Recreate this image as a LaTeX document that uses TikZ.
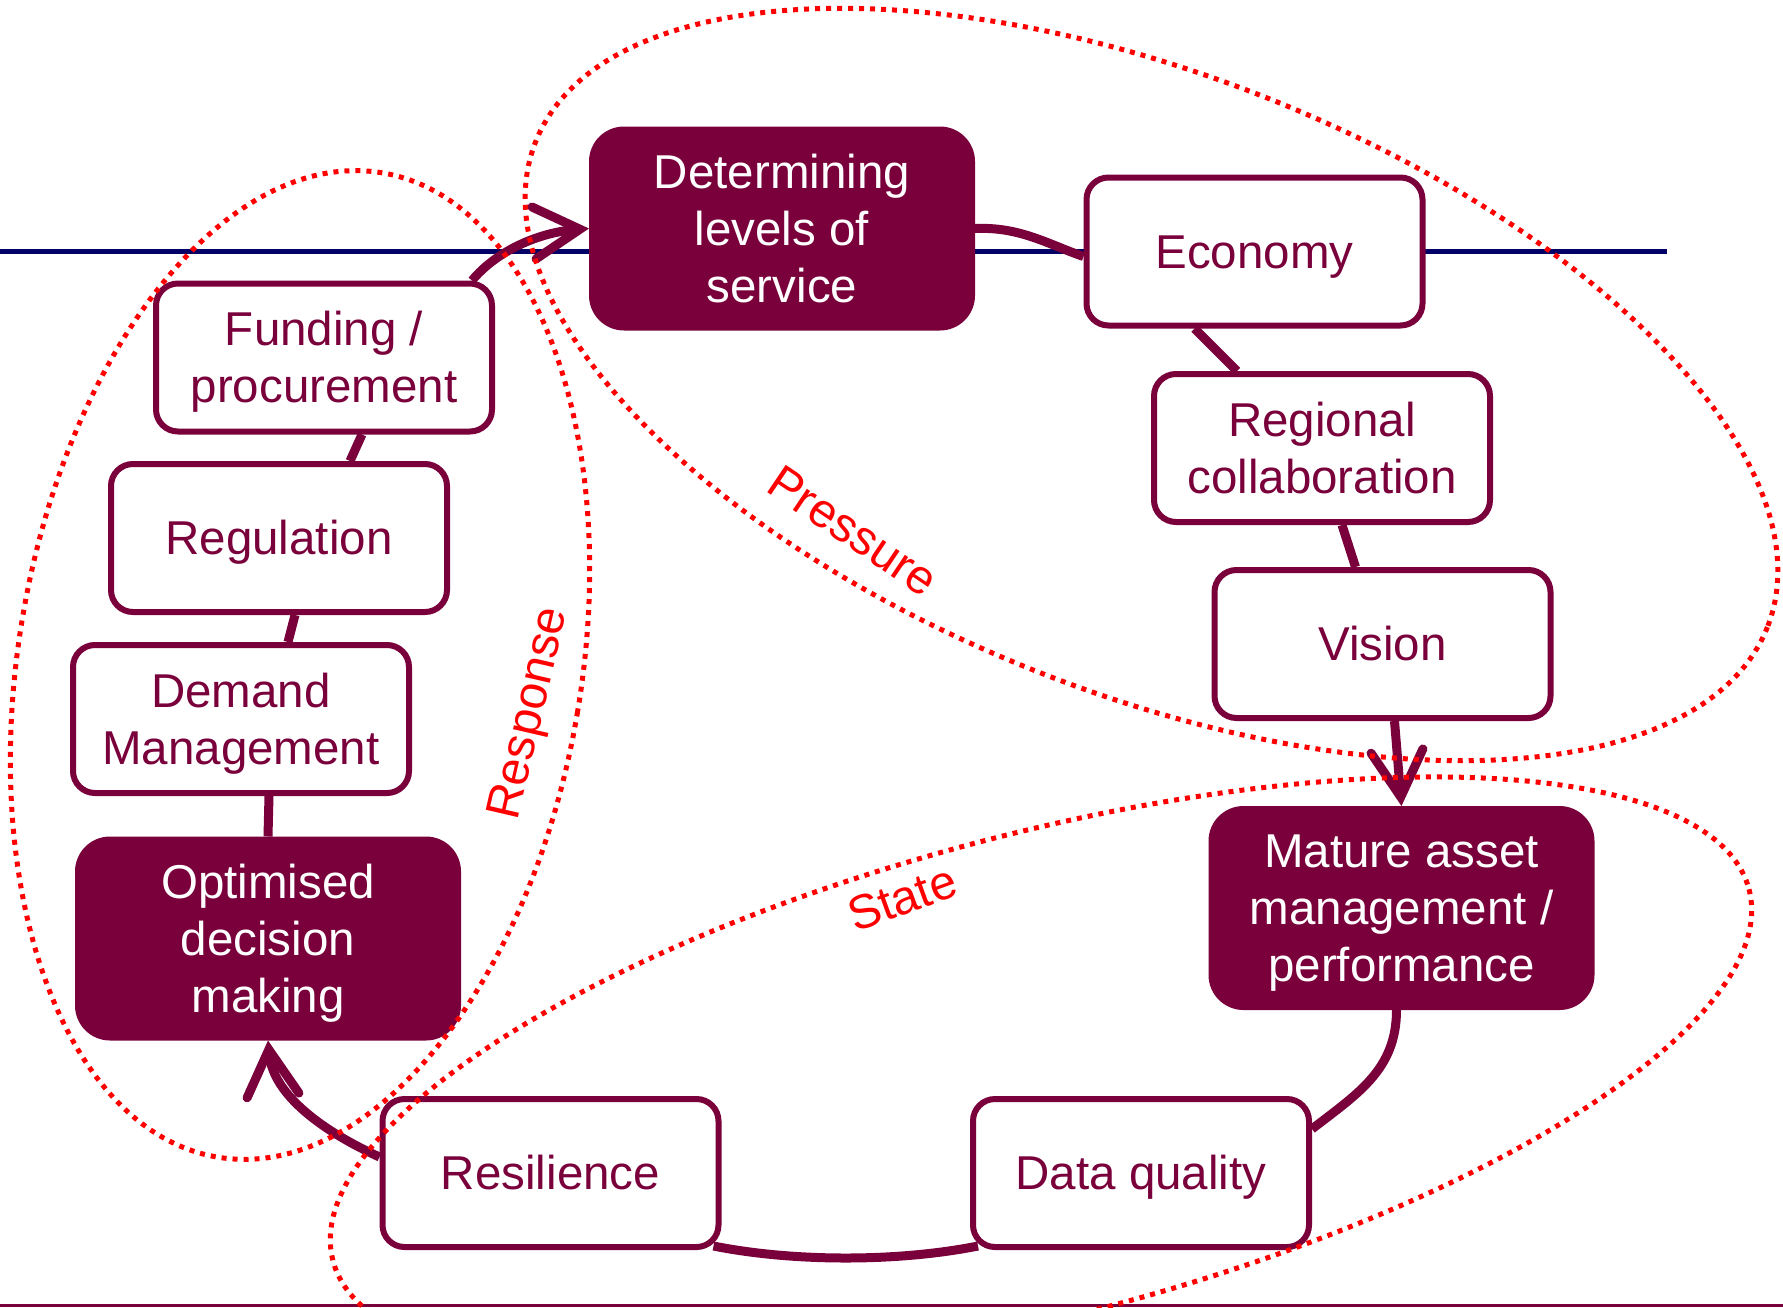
\documentclass[tikz,border=0pt]{standalone}
\usepackage{fontspec}
\setmainfont{Liberation Sans}
\usetikzlibrary{arrows.meta,backgrounds,calc}
\definecolor{wine}{RGB}{122,0,60}
\definecolor{navyline}{RGB}{0,0,102}
\definecolor{dotred}{RGB}{255,0,0}
% line strut: ascent and descent of one text line, so text is centred on its line boxes
\newcommand{\lstrut}{\rule[-10pt]{0pt}{53pt}}

\begin{document}
\begin{tikzpicture}[x=1pt,y=-1pt,
  boxtext/.style={align=center, font=\fontsize{47.5}{57}\selectfont, inner sep=0pt},
  wbox/.style={boxtext, draw=wine, line width=6pt, fill=white, text=wine,
    rounded corners=22pt, minimum width=336pt, minimum height=148pt},
  dbox/.style={boxtext, draw=wine, line width=6pt, fill=wine, text=white,
    rounded corners=32pt, minimum width=380pt, minimum height=198pt},
  link/.style={draw=wine, line width=9pt},
  flow/.style={link, -{Straight Barb[length=46pt, width=52pt, line cap=round, line join=miter]}},
  zone/.style={draw=dotred, line width=5pt, dash pattern=on 5pt off 6pt},
  zonelabel/.style={text=dotred, font=\fontsize{48}{58}\selectfont, inner sep=0pt},
]
\useasboundingbox (0,0) rectangle (1783,1307);

% boxes of the cycle
\node[dbox] (det)  at (782,228.5)  {\lstrut Determining\\\lstrut levels of\\\lstrut service};
\node[wbox] (eco)  at (1254.5,251.5) {\lstrut Economy};
\node[wbox] (reg)  at (1322,448)   {\lstrut Regional\\\lstrut collaboration};
\node[wbox] (vis)  at (1382.5,644) {\lstrut Vision};
\node[dbox] (mat)  at (1401.5,908) {\lstrut Mature asset\\\lstrut management /\\\lstrut performance};
\node[wbox] (data) at (1141,1173)  {\lstrut Data quality};
\node[wbox] (res)  at (550.5,1173) {\lstrut Resilience};
\node[dbox] (opt)  at (268,938.5)  {\lstrut Optimised\\\lstrut decision\\\lstrut making};
\node[wbox] (dem)  at (241,719)    {\lstrut Demand\\\lstrut Management};
\node[wbox] (regu) at (279,538)    {\lstrut Regulation};
\node[wbox] (fund) at (324,357.5)  {\lstrut Funding /\\\lstrut procurement};

\begin{scope}[on background layer]
  % horizontal rules
  \coordinate (hl) at (0,251);
  \coordinate (hr) at (1667,251);
  \draw[navyline, line width=5pt] (hl) -- (hr);
  \coordinate (bl) at (0,1305);
  \coordinate (br) at (1783,1305);
  \draw[wine, line width=3pt] (bl) -- (br);

  % connectors
  \draw[flow] ($(fund.north east)+(-23,0)$) .. controls +(25,-30) and +(-50,4) .. (det.west);
  \draw[link] (det.east) .. controls +(45,-2) and +(-35,-12) .. ($(eco.west)+(0,5)$);
  \draw[link] ($(eco.south)+(-60,0)$) -- ($(reg.north)+(-85,0)$);
  \draw[link] ($(reg.south)+(20,0)$) -- ($(vis.north)+(-27,0)$);
  \draw[flow] ($(vis.south)+(12,0)$) -- (mat.north);
  \draw[link] ($(mat.south)+(-5,0)$) .. controls +(0,60) and +(45,-35) .. ($(data.east)+(0,-44)$);
  \draw[link] ($(data.south west)+(8,-4)$) .. controls +(-80,16) and +(80,16) .. ($(res.south east)+(-8,-4)$);
  \draw[flow] ($(res.west)+(0,-16)$) .. controls +(-55,-25) and +(5,55) .. (opt.south);
  \draw[link] ($(dem.south)+(28,0)$) -- (opt.north);
  \draw[link] ($(regu.south)+(16,0)$) -- ($(dem.north)+(47,0)$);
  \draw[link] ($(fund.south)+(38,0)$) -- ($(regu.north)+(71,0)$);
\end{scope}

% dotted zones
\coordinate (pc) at (1151.5,384.5);
\coordinate (rc) at (300,665);
\coordinate (sc) at (1041,1075);
\draw[zone, rotate around={-21.5:(pc)}] (pc) ellipse [x radius=662, y radius=309];
\draw[zone, rotate around={-9.5:(rc)}] (rc) ellipse [x radius=281.5, y radius=499];
\draw[zone, rotate around={14.7:(sc)}] (sc) ellipse [x radius=732, y radius=241];

% zone names
\node[zonelabel, rotate=-34] (plabel) at (853,531) {Pressure};
\node[zonelabel, rotate=77]  (rlabel) at (531,714) {Response};
\node[zonelabel, rotate=20]  (slabel) at (902,898) {State};
\end{tikzpicture}
\end{document}
